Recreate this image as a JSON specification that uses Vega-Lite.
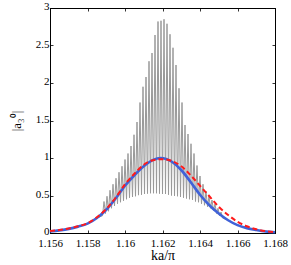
{
  "$schema": "https://vega.github.io/schema/vega-lite/v6.json",
  "width": 225,
  "height": 225,
  "autosize": {"type": "none"},
  "padding": {"left": 50, "top": 8, "right": 16, "bottom": 32},
  "config": {
    "view": {"stroke": "black", "strokeWidth": 1},
    "axis": {
      "domainColor": "black", "tickColor": "black", "grid": false,
      "labelFont": "'Liberation Serif', 'Times New Roman', Times, serif", "titleFont": "'Liberation Serif', 'Times New Roman', Times, serif",
      "labelFontSize": 11, "labelColor": "black", "titleColor": "black", "labelFlush": false,
      "titleFontWeight": "normal", "tickSize": -3, "domainWidth": 1, "tickWidth": 0.8
    }
  },
  "data": {"values": [
    {"s":"g","x":1.156,"y":0.02},{"s":"g","x":1.157,"y":0.055},{"s":"g","x":1.158,"y":0.125},{"s":"g","x":1.1585,"y":0.2},
    {"s":"g","x":1.1588,"y":0.23},{"s":"g","x":1.15888,"y":0.42},{"s":"g","x":1.15896,"y":0.26},{"s":"g","x":1.15904,"y":0.49},
    {"s":"g","x":1.15912,"y":0.29},{"s":"g","x":1.1592,"y":0.57},{"s":"g","x":1.15928,"y":0.33},{"s":"g","x":1.15936,"y":0.65},
    {"s":"g","x":1.15944,"y":0.36},{"s":"g","x":1.15952,"y":0.73},{"s":"g","x":1.1596,"y":0.39},{"s":"g","x":1.15968,"y":0.81},
    {"s":"g","x":1.15976,"y":0.41},{"s":"g","x":1.15984,"y":0.89},{"s":"g","x":1.15992,"y":0.43},{"s":"g","x":1.16,"y":0.98},
    {"s":"g","x":1.16008,"y":0.45},{"s":"g","x":1.16016,"y":1.06},{"s":"g","x":1.16024,"y":0.47},{"s":"g","x":1.16032,"y":1.16},
    {"s":"g","x":1.1604,"y":0.48},{"s":"g","x":1.16048,"y":1.31},{"s":"g","x":1.16056,"y":0.49},{"s":"g","x":1.16064,"y":1.48},
    {"s":"g","x":1.16072,"y":0.505},{"s":"g","x":1.1608,"y":1.74},{"s":"g","x":1.16088,"y":0.51},{"s":"g","x":1.16096,"y":1.95},
    {"s":"g","x":1.16104,"y":0.52},{"s":"g","x":1.16112,"y":2.08},{"s":"g","x":1.1612,"y":0.525},{"s":"g","x":1.16128,"y":2.29},
    {"s":"g","x":1.16136,"y":0.53},{"s":"g","x":1.16144,"y":2.4},{"s":"g","x":1.16152,"y":0.53},{"s":"g","x":1.1616,"y":2.64},
    {"s":"g","x":1.16168,"y":0.53},{"s":"g","x":1.16176,"y":2.82},{"s":"g","x":1.16184,"y":0.525},{"s":"g","x":1.16192,"y":2.83},
    {"s":"g","x":1.162,"y":0.52},{"s":"g","x":1.16208,"y":2.85},{"s":"g","x":1.16216,"y":0.52},{"s":"g","x":1.16224,"y":2.79},
    {"s":"g","x":1.16232,"y":0.51},{"s":"g","x":1.1624,"y":2.65},{"s":"g","x":1.16248,"y":0.5},{"s":"g","x":1.16256,"y":2.47},
    {"s":"g","x":1.16264,"y":0.495},{"s":"g","x":1.16272,"y":2.24},{"s":"g","x":1.1628,"y":0.49},{"s":"g","x":1.16288,"y":1.93},
    {"s":"g","x":1.16296,"y":0.48},{"s":"g","x":1.16304,"y":1.74},{"s":"g","x":1.16312,"y":0.47},{"s":"g","x":1.1632,"y":1.44},
    {"s":"g","x":1.16328,"y":0.46},{"s":"g","x":1.16336,"y":1.32},{"s":"g","x":1.16344,"y":0.45},{"s":"g","x":1.16352,"y":1.19},
    {"s":"g","x":1.1636,"y":0.44},{"s":"g","x":1.16368,"y":1.06},{"s":"g","x":1.16376,"y":0.42},{"s":"g","x":1.16384,"y":0.9},
    {"s":"g","x":1.16392,"y":0.41},{"s":"g","x":1.164,"y":0.76},{"s":"g","x":1.16408,"y":0.39},{"s":"g","x":1.16416,"y":0.65},
    {"s":"g","x":1.16424,"y":0.37},{"s":"g","x":1.16432,"y":0.56},{"s":"g","x":1.1644,"y":0.35},{"s":"g","x":1.16448,"y":0.49},
    {"s":"g","x":1.16456,"y":0.33},{"s":"g","x":1.16464,"y":0.44},{"s":"g","x":1.16472,"y":0.3},{"s":"g","x":1.1648,"y":0.39},
    {"s":"g","x":1.16488,"y":0.26},{"s":"g","x":1.16496,"y":0.33},{"s":"g","x":1.16504,"y":0.23},{"s":"g","x":1.16512,"y":0.28},
    {"s":"g","x":1.1652,"y":0.2},{"s":"g","x":1.1655,"y":0.17},{"s":"g","x":1.166,"y":0.105},{"s":"g","x":1.167,"y":0.04},{"s":"g","x":1.168,"y":0.01},
    {"s":"b","x":1.156,"y":0.02},{"s":"b","x":1.1565,"y":0.035},{"s":"b","x":1.157,"y":0.055},{"s":"b","x":1.1575,"y":0.085},
    {"s":"b","x":1.158,"y":0.125},{"s":"b","x":1.1585,"y":0.2},{"s":"b","x":1.159,"y":0.31},{"s":"b","x":1.1595,"y":0.46},
    {"s":"b","x":1.16,"y":0.63},{"s":"b","x":1.1605,"y":0.77},{"s":"b","x":1.161,"y":0.89},{"s":"b","x":1.1615,"y":0.975},
    {"s":"b","x":1.1619,"y":1.0},{"s":"b","x":1.1625,"y":0.95},{"s":"b","x":1.163,"y":0.84},{"s":"b","x":1.1635,"y":0.68},
    {"s":"b","x":1.164,"y":0.51},{"s":"b","x":1.1645,"y":0.37},{"s":"b","x":1.165,"y":0.26},{"s":"b","x":1.1655,"y":0.17},
    {"s":"b","x":1.166,"y":0.105},{"s":"b","x":1.1665,"y":0.065},{"s":"b","x":1.167,"y":0.04},{"s":"b","x":1.1675,"y":0.02},{"s":"b","x":1.168,"y":0.01},
    {"s":"r","x":1.156,"y":0.025},{"s":"r","x":1.1565,"y":0.04},{"s":"r","x":1.157,"y":0.06},{"s":"r","x":1.1575,"y":0.09},
    {"s":"r","x":1.158,"y":0.13},{"s":"r","x":1.1585,"y":0.21},{"s":"r","x":1.159,"y":0.32},{"s":"r","x":1.1595,"y":0.47},
    {"s":"r","x":1.16,"y":0.65},{"s":"r","x":1.1605,"y":0.79},{"s":"r","x":1.161,"y":0.91},{"s":"r","x":1.1615,"y":0.97},
    {"s":"r","x":1.162,"y":0.985},{"s":"r","x":1.1625,"y":0.96},{"s":"r","x":1.163,"y":0.89},{"s":"r","x":1.1635,"y":0.77},
    {"s":"r","x":1.164,"y":0.63},{"s":"r","x":1.1645,"y":0.49},{"s":"r","x":1.165,"y":0.35},{"s":"r","x":1.1655,"y":0.24},
    {"s":"r","x":1.166,"y":0.15},{"s":"r","x":1.1665,"y":0.09},{"s":"r","x":1.167,"y":0.05},{"s":"r","x":1.1675,"y":0.025},{"s":"r","x":1.168,"y":0.01}
  ]},
  "resolve": {"axis": {"x": "independent", "y": "independent"}},
  "layer": [
    {
      "transform": [{"filter": "datum.s == 'g'"}],
      "mark": {"type": "line", "color": "#999999", "strokeWidth": 1, "clip": true},
      "encoding": {
        "x": {"field": "x", "type": "quantitative", "scale": {"domain": [1.156, 1.168], "nice": false, "zero": false},
          "axis": {"orient": "bottom", "values": [1.156, 1.158, 1.16, 1.162, 1.164, 1.166, 1.168], "format": "~f", "title": "ka/π", "titleFontSize": 14, "labelPadding": 7, "titlePadding": 0}},
        "y": {"field": "y", "type": "quantitative", "scale": {"domain": [0, 3], "nice": false},
          "axis": {"orient": "left", "values": [0, 0.5, 1, 1.5, 2, 2.5, 3], "format": "~f", "title": "|a₃⁰|", "titleFontSize": 13, "labelPadding": 4, "labelOffset": -1.5, "titlePadding": 12}}
      }
    },
    {
      "transform": [{"filter": "datum.s == 'b'"}],
      "mark": {"type": "line", "color": "#4062d8", "strokeWidth": 2.6, "interpolate": "monotone"},
      "encoding": {
        "x": {"field": "x", "type": "quantitative", "axis": null},
        "y": {"field": "y", "type": "quantitative", "axis": null}
      }
    },
    {
      "transform": [{"filter": "datum.s == 'r'"}],
      "mark": {"type": "line", "color": "#ff1a1a", "strokeWidth": 2, "strokeDash": [5, 3], "interpolate": "monotone"},
      "encoding": {
        "x": {"field": "x", "type": "quantitative",
          "axis": {"orient": "top", "values": [1.156, 1.158, 1.16, 1.162, 1.164, 1.166, 1.168], "labels": false, "title": null}},
        "y": {"field": "y", "type": "quantitative",
          "axis": {"orient": "right", "values": [0, 0.5, 1, 1.5, 2, 2.5, 3], "labels": false, "title": null}}
      }
    }
  ]
}
